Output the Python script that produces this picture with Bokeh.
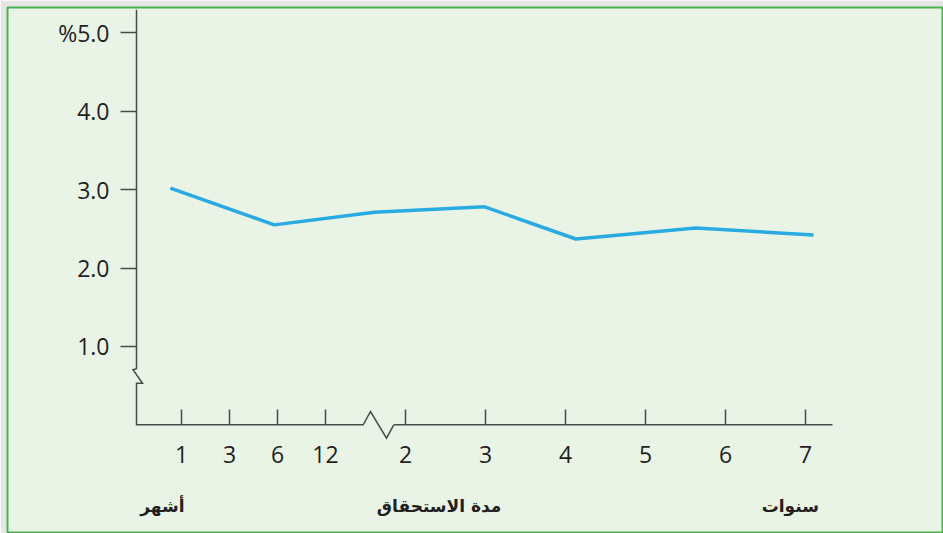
from bokeh.plotting import figure
from bokeh.models import Range1d, LinearAxis, FixedTicker
from bokeh.core.properties import value
from bokeh.embed import file_html
from bokeh.resources import INLINE

# ---------------- data ----------------
# x positions on the (broken) maturity axis: months part then years part
x_tick_pos = [0.0, 0.6, 1.2, 1.8, 2.8, 3.8, 4.8, 5.8, 6.8, 7.8]
x_tick_labels = ["1", "3", "6", "12", "2", "3", "4", "5", "6", "7"]

y_ticks = [1.0, 2.0, 3.0, 4.0, 5.0]
y_tick_labels = ["1.0", "2.0", "3.0", "4.0", "%5.0"]

# yield curve
curve_x = [-0.14, 1.16, 2.41, 3.79, 4.93, 6.43, 7.90]
curve_y = [3.02, 2.55, 2.71, 2.78, 2.37, 2.51, 2.42]

group_labels = ["أشهر", "مدة الاستحقاق", "سنوات"]
group_label_x = [-0.24, 3.22, 7.61]
group_label_y = [-1.03, -1.03, -1.03]

# ---------------- layout ----------------
W, H = 943, 533
ML, MT, MR, MB = 7, 7, 1, 0
PX_X = 80.0        # pixels per x unit
X0_PX = 181.0      # pixel of x = 0
PX_Y = 78.4        # pixels per y unit
Y0_PX = 424.3      # pixel of y = 0 (from top)

def xd(px):
    return (px - X0_PX) / PX_X

def yd(py):
    return (Y0_PX - py) / PX_Y

AX = "#4a4a4a"
TXT = "#231f20"
BG = "#e9f4e7"

p = figure(width=W, height=H, output_backend="svg", toolbar_location=None,
           x_axis_type=None, y_axis_type=None,
           min_border_left=ML, min_border_top=MT, min_border_right=MR, min_border_bottom=MB,
           x_range=Range1d(xd(ML), xd(W - MR)), y_range=Range1d(yd(H - MB), yd(MT)))
p.background_fill_color = BG
p.border_fill_color = "#e6e6e6"
p.outline_line_color = "#4cb050"
p.outline_line_width = 2

y_axis_x = xd(136)
x_axis_end = xd(832)
y_axis_top = yd(9.3)

FONT = "Open Sans"
FS = "23px"

# y axis
yax = LinearAxis(fixed_location=y_axis_x, ticker=FixedTicker(ticks=y_ticks),
                 major_label_overrides={t: l for t, l in zip(y_ticks, y_tick_labels)})
yax.axis_line_color = None
yax.major_tick_in = 0
yax.major_tick_out = 16
yax.major_tick_line_color = AX
yax.major_tick_line_width = 1.5
yax.minor_tick_line_color = None
yax.major_label_text_font = FONT
yax.major_label_text_font_size = FS
yax.major_label_text_color = TXT
yax.major_label_standoff = 11
p.add_layout(yax, "left")

# x axis
xax = LinearAxis(fixed_location=0, ticker=FixedTicker(ticks=x_tick_pos),
                 major_label_overrides={t: l for t, l in zip(x_tick_pos, x_tick_labels)})
xax.axis_line_color = None
xax.major_tick_in = 15
xax.major_tick_out = 0
xax.major_tick_line_color = AX
xax.major_tick_line_width = 1.5
xax.minor_tick_line_color = None
xax.major_label_text_font = FONT
xax.major_label_text_font_size = FS
xax.major_label_text_color = TXT
xax.major_label_standoff = 21
p.add_layout(xax, "below")

# axis lines with break marks (y-axis break, then x-axis up to the zigzag)
zx = [xd(362.7), xd(370), xd(386), xd(393.3)]
zy = [0, yd(411), yd(437.7), 0]
axis_x = [y_axis_x, y_axis_x, xd(132.5), xd(142), y_axis_x, y_axis_x] + zx
axis_y = [y_axis_top, yd(368.3), yd(369.3), yd(382.7), yd(382.7), 0] + zy
p.line(axis_x, axis_y, line_color=AX, line_width=1.5, line_join="miter")
p.line([zx[-1], x_axis_end], [0, 0], line_color=AX, line_width=1.5)

# curve
p.line(curve_x, curve_y, line_color="#29abe2", line_width=3.5)

# group labels
p.text(x=group_label_x, y=group_label_y, text=group_labels,
       text_font=value("DejaVu Sans"), text_font_style="bold",
       text_font_size="17px", text_color=TXT,
       text_align="center", text_baseline="middle")

open("out.html", "w").write(file_html(p, INLINE))
